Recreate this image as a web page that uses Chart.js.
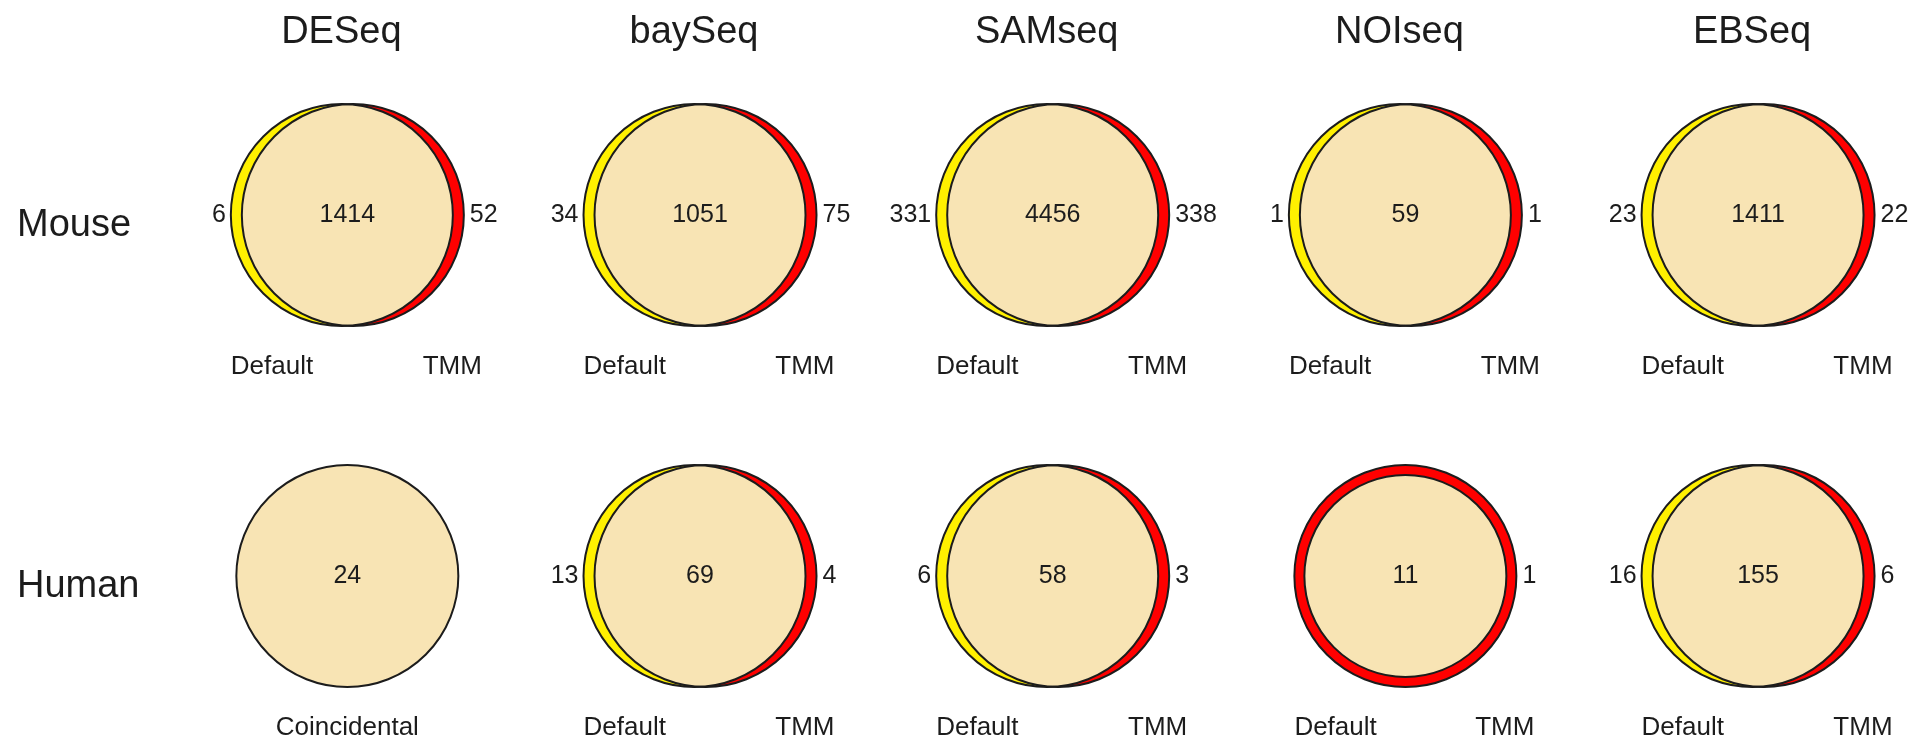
<!DOCTYPE html>
<html>
<head>
<meta charset="utf-8">
<title>Default vs TMM normalisation</title>
<script src="https://cdn.jsdelivr.net/npm/chart.js@4.4.1/dist/chart.umd.min.js"></script>
<style>
  html, body { margin: 0; padding: 0; background: #fff; }
  #wrap { width: 1915px; height: 743px; }
</style>
</head>
<body>
<div id="wrap"><canvas id="venn"></canvas></div>
<script>
const methods = ["DESeq", "baySeq", "SAMseq", "NOIseq", "EBSeq"];
const species = ["Mouse", "Human"];
const setNames = ["Default", "TMM"];
const sameSetName = "Coincidental";

// DE genes per method: only with Default, with both, only with TMM
const mouseDefaultOnly = [6, 34, 331, 1, 23];
const mouseShared = [1414, 1051, 4456, 59, 1411];
const mouseTmmOnly = [52, 75, 338, 1, 22];
const humanDefaultOnly = [0, 13, 6, 0, 16];
const humanShared = [24, 69, 58, 11, 155];
const humanTmmOnly = [0, 4, 3, 1, 6];

const FONT = '"Liberation Sans", Arial, sans-serif';
const COLORS = {
  def: "#FFF000",
  tmm: "#FF0000",
  both: "#F8E4B4",
  line: "#1c1c1c",
  text: "#1c1c1c",
};
const RADIUS = 111; // radius of each set circle
const SHIFT = 11;   // centre distance of two partly overlapping sets
const RING = 10;    // inner circle shrink when one set holds the other

function rowPoints(row, onlyA, both, onlyB) {
  return methods.map((m, i) => ({ x: i, y: row, a: onlyA[i], both: both[i], b: onlyB[i] }));
}

function circle(ctx, x, y, r) {
  ctx.beginPath();
  ctx.arc(x, y, r, 0, Math.PI * 2);
}

function drawVenn(ctx, cx, cy, d) {
  ctx.save();
  ctx.lineWidth = 2;
  ctx.strokeStyle = COLORS.line;

  let left = cx - RADIUS;
  let right = cx + RADIUS;

  if (d.a === 0 && d.b === 0) {
    circle(ctx, cx, cy, RADIUS);
    ctx.fillStyle = COLORS.both;
    ctx.fill();
    ctx.stroke();
  } else if (d.a === 0 || d.b === 0) {
    // one set lies fully inside the other
    circle(ctx, cx, cy, RADIUS);
    ctx.fillStyle = d.a === 0 ? COLORS.tmm : COLORS.def;
    ctx.fill();
    ctx.stroke();
    circle(ctx, cx, cy, RADIUS - RING);
    ctx.fillStyle = COLORS.both;
    ctx.fill();
    ctx.stroke();
  } else {
    const xa = cx - SHIFT / 2;
    const xb = cx + SHIFT / 2;
    left = xa - RADIUS;
    right = xb + RADIUS;
    circle(ctx, xa, cy, RADIUS);
    ctx.fillStyle = COLORS.def;
    ctx.fill();
    circle(ctx, xb, cy, RADIUS);
    ctx.fillStyle = COLORS.tmm;
    ctx.fill();
    ctx.save();
    circle(ctx, xa, cy, RADIUS);
    ctx.clip();
    circle(ctx, xb, cy, RADIUS);
    ctx.fillStyle = COLORS.both;
    ctx.fill();
    ctx.restore();
    circle(ctx, xa, cy, RADIUS);
    ctx.stroke();
    circle(ctx, xb, cy, RADIUS);
    ctx.stroke();
  }

  ctx.fillStyle = COLORS.text;
  ctx.textBaseline = "middle";
  ctx.font = "25px " + FONT;
  ctx.textAlign = "center";
  ctx.fillText(String(d.both), cx, cy);
  if (d.a > 0) {
    ctx.textAlign = "right";
    ctx.fillText(String(d.a), left - 5, cy);
  }
  if (d.b > 0) {
    ctx.textAlign = "left";
    ctx.fillText(String(d.b), right + 6, cy);
  }

  const ly = cy + 152;
  ctx.font = "26px " + FONT;
  if (d.a === 0 && d.b === 0) {
    ctx.textAlign = "center";
    ctx.fillText(sameSetName, cx, ly);
  } else {
    ctx.textAlign = "left";
    ctx.fillText(setNames[0], left, ly);
    ctx.textAlign = "right";
    ctx.fillText(setNames[1], right + 18, ly);
  }
  ctx.restore();
}

const vennPlugin = {
  id: "venn",
  afterDatasetsDraw(chart) {
    chart.data.datasets.forEach((ds, di) => {
      const meta = chart.getDatasetMeta(di);
      meta.data.forEach((pt, i) => drawVenn(chart.ctx, pt.x, pt.y, ds.data[i]));
    });
  },
};

const tickFont = { family: FONT, size: 38 };

// keep the plot area fixed; the axes only carry the row and column names
function fixBox(size) {
  return (s) => {
    if (s.isHorizontal()) s.height = size; else s.width = size;
    s.paddingTop = 0;
    s.paddingBottom = 0;
    s.paddingLeft = 0;
    s.paddingRight = 0;
  };
}

new Chart(document.getElementById("venn"), {
  type: "scatter",
  data: {
    datasets: [
      { label: species[0], data: rowPoints(0, mouseDefaultOnly, mouseShared, mouseTmmOnly), pointRadius: 0 },
      { label: species[1], data: rowPoints(1, humanDefaultOnly, humanShared, humanTmmOnly), pointRadius: 0 },
    ],
  },
  options: {
    responsive: true,
    maintainAspectRatio: false,
    animation: false,
    events: [],
    layout: { padding: { left: 17, right: 0, top: 0, bottom: 0 } },
    plugins: { legend: { display: false }, tooltip: { enabled: false } },
    scales: {
      x: {
        type: "linear",
        position: "top",
        min: -0.5,
        max: 4.445,
        grid: { display: false, drawTicks: false },
        border: { display: false },
        afterBuildTicks: (s) => { s.ticks = methods.map((m, i) => ({ value: i })); },
        afterFit: fixBox(52),
        ticks: {
          callback: (v) => methods[v],
          font: tickFont,
          color: COLORS.text,
          padding: -3,
          labelOffset: -6,
          maxRotation: 0,
          autoSkip: false,
        },
      },
      y: {
        type: "linear",
        reverse: true,
        min: -0.4515,
        max: 1.4626,
        grid: { display: false, drawTicks: false },
        border: { display: false },
        afterBuildTicks: (s) => { s.ticks = species.map((m, i) => ({ value: i })); },
        afterFit: fixBox(154),
        ticks: {
          callback: (v) => species[v],
          font: tickFont,
          color: COLORS.text,
          crossAlign: "far",
          padding: 0,
          labelOffset: 11,
          autoSkip: false,
        },
      },
    },
  },
  plugins: [vennPlugin],
});
</script>
</body>
</html>
